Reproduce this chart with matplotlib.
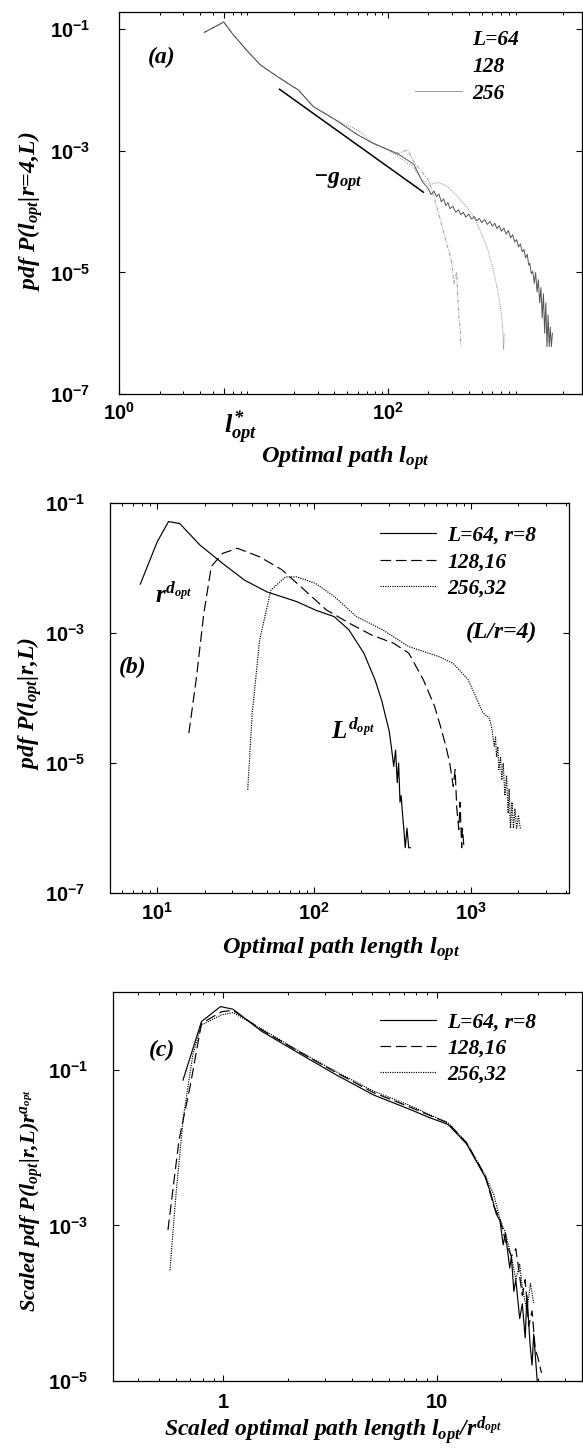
import numpy as np
import matplotlib
matplotlib.use("Agg")
import matplotlib.pyplot as plt
from matplotlib.ticker import FixedLocator, FixedFormatter, LogLocator, NullFormatter, NullLocator

plt.rcParams['font.family'] = ['Liberation Sans', 'DejaVu Sans']
plt.rcParams['font.weight'] = 'bold'
plt.rcParams['mathtext.fontset'] = 'custom'
plt.rcParams['mathtext.rm'] = 'Liberation Serif:bold:italic'
plt.rcParams['mathtext.it'] = 'Liberation Serif:bold:italic'
plt.rcParams['mathtext.bf'] = 'Liberation Serif:bold:italic'

# ---------------- data: panel (a)  (log10 of pdf) ----------------
a_l64 = [4.3, 6, 7, 9.1, 11.3, 15.1, 21.6, 27.8, 40.8, 60, 77, 100, 121, 140, 156,
         180, 203, 230, 261, 280, 297, 310, 325, 337, 345, 350]
a_p64 = [-1.05, -0.88, -1.08, -1.37, -1.59, -1.78, -2.0, -2.27, -2.49, -2.74, -2.87,
         -2.98, -3.04, -2.98, -3.18, -3.35, -3.5, -3.9, -4.35, -4.6, -4.79, -5.18,
         -5.0, -5.72, -5.9, -6.22]
a_l128 = [4.3, 6, 7, 9.1, 11.3, 15.1, 21.6, 27.8, 40.8, 60, 77, 100, 121, 156, 180,
          203, 240, 279, 330, 384, 440, 496, 550, 601, 641, 670, 705, 715, 728, 735]
a_p128 = [-1.05, -0.88, -1.08, -1.37, -1.59, -1.78, -2.0, -2.27, -2.49, -2.66, -2.87,
          -2.98, -3.1, -3.28, -3.48, -3.55, -3.52, -3.59, -3.75, -3.92, -4.1, -4.35,
          -4.6, -4.90, -5.18, -5.4, -5.72, -5.9, -6.27, -6.0]
a_l256 = [4.3, 6, 7, 9.1, 11.3, 15.1, 21.6, 27.8, 40.8, 60, 77, 100, 121, 156, 180,
          200, 210, 220, 230, 240, 250, 260, 270, 280, 290, 305, 320, 335, 350, 365,
          380, 400, 420, 440, 460, 480, 500, 525, 550, 575, 600, 625, 650, 675, 700,
          730, 760, 790, 820, 850, 880, 910, 940, 970, 1000, 1030, 1060, 1090, 1120,
          1140, 1170, 1200, 1230, 1260, 1290, 1320, 1350, 1380, 1410, 1440, 1470,
          1500, 1530, 1560, 1590, 1620, 1650, 1680]
a_p256 = [-1.05, -0.88, -1.08, -1.37, -1.59, -1.78, -2.0, -2.27, -2.49, -2.74, -2.87,
          -2.98, -3.06, -3.22, -3.5, -3.62, -3.72, -3.66, -3.75, -3.71, -3.84, -3.79,
          -3.90, -3.85, -3.95, -3.91, -4.01, -3.97, -4.05, -4.01, -4.09, -4.04, -4.12,
          -4.08, -4.15, -4.11, -4.18, -4.13, -4.21, -4.16, -4.24, -4.19, -4.28, -4.23,
          -4.32, -4.27, -4.37, -4.31, -4.43, -4.38, -4.50, -4.46, -4.58, -4.53, -4.66,
          -4.62, -4.76, -4.70, -4.88, -4.85, -5.02, -4.98, -5.18, -5.0, -5.32, -5.12,
          -5.50, -5.25, -5.75, -5.35, -6.0, -5.5, -6.22, -5.7, -6.22, -5.9, -6.22,
          -6.0]
a_fit_l = [15.6, 184]
a_fit_p = [-1.986, -3.68]

# ---------------- data: panel (b) ----------------
b_l64 = [7.8, 10, 11.8, 13.9, 18.7, 26, 36, 50, 77.5, 102, 134, 166, 207, 244, 270,
         288, 300, 310, 321, 330, 338, 345, 352, 358, 365, 372, 380, 390, 400, 410]
b_p64 = [-2.25, -1.60, -1.29, -1.32, -1.65, -1.93, -2.19, -2.37, -2.52, -2.65, -2.75,
         -2.95, -3.31, -3.72, -4.05, -4.33, -4.5, -4.75, -5.05, -4.8, -5.3, -5.0,
         -5.6, -5.5, -5.77, -6.0, -6.3, -6.0, -6.3, -6.3]
b_l128 = [15.9, 17.7, 19.8, 22.1, 26, 32.4, 44.8, 62.3, 86.5, 120, 167, 231, 321,
          400, 496, 585, 640, 690, 730, 769, 790, 810, 834, 850, 870, 880, 900, 920]
b_p128 = [-4.54, -3.72, -2.70, -1.98, -1.78, -1.70, -1.83, -2.03, -2.34, -2.65, -2.85,
          -3.03, -3.16, -3.31, -3.72, -4.13, -4.45, -4.74, -5.0, -5.36, -5.1, -5.7,
          -6.02, -5.6, -6.3, -6.0, -6.3, -6.3]
b_l256 = [37.7, 40.3, 44.9, 53, 65.8, 77.6, 102, 134, 186, 272, 400, 617, 769, 957,
          1190, 1300, 1350, 1403, 1430, 1450, 1480, 1500, 1540, 1566, 1600, 1640,
          1680, 1720, 1746, 1780, 1820, 1860, 1900, 1950, 2000, 2055, 2100]
b_p256 = [-5.41, -4.23, -3.11, -2.34, -2.14, -2.14, -2.24, -2.44, -2.75, -2.95, -3.21,
          -3.36, -3.47, -3.72, -4.23, -4.30, -4.45, -4.74, -4.6, -4.9, -4.75, -5.1,
          -4.9, -5.26, -5.0, -5.5, -5.2, -5.77, -5.4, -6.0, -5.6, -6.0, -5.7, -6.0,
          -5.8, -6.0, -6.0]

# ---------------- data: panel (c) ----------------
c_x64 = [0.647, 0.79, 0.97, 1.11, 1.51, 2.25, 3.37, 5.05, 7.55, 9.2, 11.3, 13.8, 16.9,
         18.0, 19.0, 19.8, 20.5, 21.0, 22.0, 22.4, 23.0, 23.5, 24.5, 25.2, 26.0, 26.5,
         27.4, 28.0, 28.5, 29.6]
c_p64 = [-1.13, -0.376, -0.183, -0.217, -0.50, -0.78, -1.06, -1.32, -1.51, -1.61, -1.70,
         -1.95, -2.38, -2.60, -2.85, -2.94, -3.25, -3.1, -3.55, -3.40, -3.85, -3.7,
         -4.2, -4.01, -4.45, -3.9, -4.53, -4.8, -4.4, -5.0]
c_x128 = [0.55, 0.62, 0.70, 0.79, 0.98, 1.11, 1.51, 2.25, 3.37, 5.05, 7.55, 9.2, 11.3,
          13.8, 16.9, 18.5, 19.8, 21.0, 22.4, 23.5, 25.2, 26.0, 27.0, 28.0, 29.0,
          29.8, 31.0]
c_p128 = [-3.06, -1.9, -1.2, -0.40, -0.25, -0.23, -0.48, -0.76, -1.03, -1.29, -1.48,
          -1.58, -1.68, -1.94, -2.36, -2.75, -2.92, -3.2, -3.4, -3.3, -3.9, -3.7,
          -4.3, -4.1, -4.6, -4.7, -4.9]
c_x256 = [0.562, 0.6, 0.65, 0.72, 0.79, 0.98, 1.11, 1.51, 2.25, 3.37, 5.05, 7.55, 9.2,
          11.3, 13.8, 16.9, 18.5, 19.8, 21.0, 22.4, 23.5, 24.5, 25.2, 26.5, 27.5, 28.5]
c_p256 = [-3.58, -2.6, -1.6, -0.8, -0.42, -0.29, -0.26, -0.47, -0.75, -1.02, -1.27,
          -1.46, -1.57, -1.68, -1.93, -2.36, -2.6, -2.92, -3.1, -3.4, -3.7, -3.5,
          -3.8, -4.1, -3.75, -4.0]

legend_a = ['L=64', '128', '256']
legend_bc = ['L=64, r=8', '128,16', '256,32']
ytick_a = [1e-7, 1e-5, 1e-3, 1e-1]
ytick_c = [1e-5, 1e-3, 1e-1]
xtick_a = [1, 100]
xtick_a_labels = [r'$\mathdefault{10^{0}}$', r'$\mathdefault{10^{2}}$']
xtick_b = [10, 100, 1000]
xtick_b_labels = [r'$\mathdefault{10^{1}}$', r'$\mathdefault{10^{2}}$', r'$\mathdefault{10^{3}}$']
xtick_c = [1, 10]
xtick_c_labels = ['1', '10']
l_star = 6

def P(v):
    return np.power(10.0, np.asarray(v, dtype=float))

W, H = 583, 1449
fig = plt.figure(figsize=(W / 100, H / 100), dpi=100)

def px_axes(l, r, t, b):
    return fig.add_axes([l / W, 1 - b / H, (r - l) / W, (b - t) / H])

serif = dict(family='Liberation Serif', style='italic', weight='bold')
leg_prop = dict(family='Liberation Serif', style='italic', weight='bold', size=15.5)
TICK = 14.5
LAB = 17

def style(ax, ypad):
    ax.set_xscale('log')
    ax.set_yscale('log')
    for s in ax.spines.values():
        s.set_linewidth(0.9)
    ax.tick_params(which='both', direction='in', top=True, right=True,
                   labelsize=TICK)
    ax.tick_params(which='major', length=4.5, width=0.8)
    ax.tick_params(which='minor', length=2, width=0.7)
    ax.tick_params(axis='y', which='major', pad=ypad)
    ax.yaxis.set_minor_locator(NullLocator())
    ax.xaxis.set_minor_locator(LogLocator(base=10, subs=np.arange(2, 10)))
    ax.xaxis.set_minor_formatter(NullFormatter())

# ---------------- panel (a) ----------------
ax = px_axes(119.3, 582, 11.7, 394)
style(ax, 21)
ax.plot(a_l64, P(a_p64), color='#9a9a9a', lw=0.7, ls=(0, (4, 1.5, 1, 1.5)), label=legend_a[0])
ax.plot(a_l128, P(a_p128), color='#8a8a8a', lw=0.7, ls=(0, (1, 1.2)), label=legend_a[1])
ax.plot(a_l256, P(a_p256), color='#555555', lw=0.7, label=legend_a[2])
ax.plot(a_fit_l, P(a_fit_p), color='black', lw=1.1)
ax.set_xlim(1, 2790)
ax.set_ylim(1e-7, 0.195)
ax.yaxis.set_major_locator(FixedLocator(ytick_a))
ax.xaxis.set_major_locator(FixedLocator(xtick_a + [l_star]))
ax.xaxis.set_major_formatter(FixedFormatter(xtick_a_labels + ['']))
ax.tick_params(axis='x', which='major', pad=6)
leg = ax.legend(loc='upper left', bbox_to_anchor=(0.639, 0.952), frameon=False,
                prop=leg_prop, handlelength=2.2, handletextpad=0.45,
                labelspacing=0.31, borderpad=0, borderaxespad=0)
leg.get_lines()[0].set_alpha(0.0)
leg.get_lines()[1].set_alpha(0.0)
leg.get_lines()[2].set_color('#999999')
ax.text(0.092, 0.881, '(a)', transform=ax.transAxes, ha='center', va='center',
        fontsize=17, **serif)
ax.text(0.418, 0.557, r'$-g_{opt}$', transform=ax.transAxes, ha='left', va='center',
        fontsize=17)
ax.text(l_star, -0.088, r'$l^{*}_{opt}$', transform=ax.get_xaxis_transform(),
        ha='left', va='center', fontsize=19)
ax.set_xlabel(r'$Optimal\ path\ l_{opt}$', fontsize=LAB + 0.5, va='center')
ax.xaxis.set_label_coords(0.488, -0.167)
ax.set_ylabel(r'$pdf\ P(l_{opt}|r\!=\!4{,}L)$', fontsize=LAB, va='center')
ax.yaxis.set_label_coords(-0.191, 0.479)

# ---------------- panel (b) ----------------
ax = px_axes(110, 569, 502.7, 893.3)
style(ax, 18)
ax.plot(b_l64, P(b_p64), color='black', lw=0.85, label=legend_bc[0])
ax.plot(b_l128, P(b_p128), color='black', lw=0.85, ls=(0, (9, 4)), label=legend_bc[1])
ax.plot(b_l256, P(b_p256), color='black', lw=0.85, ls=(0, (1, 1)), label=legend_bc[2])
ax.set_xlim(5, 4200)
ax.set_ylim(1e-7, 1e-1)
ax.yaxis.set_major_locator(FixedLocator(ytick_a))
ax.xaxis.set_major_locator(FixedLocator(xtick_b))
ax.xaxis.set_major_formatter(FixedFormatter(xtick_b_labels))
ax.tick_params(axis='x', which='major', pad=6)
ax.legend(loc='upper left', bbox_to_anchor=(0.589, 0.941), frameon=False,
          prop=leg_prop, handlelength=2.6, handletextpad=0.5,
          labelspacing=0.29, borderpad=0, borderaxespad=0)
ax.text(0.050, 0.579, '(b)', transform=ax.transAxes, ha='center', va='center',
        fontsize=17, **serif)
ax.text(0.139, 0.764, r'$r^{d_{opt}}$', transform=ax.transAxes, ha='center', va='center',
        fontsize=18)
ax.text(0.529, 0.416, r'$L^{d_{opt}}$', transform=ax.transAxes, ha='center', va='center',
        fontsize=18)
ax.text(0.852, 0.667, '(L/r=4)', transform=ax.transAxes, ha='center', va='center',
        fontsize=17, **serif)
ax.set_xlabel(r'$Optimal\ path\ length\ l_{opt}$', fontsize=LAB + 0.5, va='center')
ax.xaxis.set_label_coords(0.503, -0.142)
ax.set_ylabel(r'$pdf\ P(l_{opt}|r{,}L)$', fontsize=LAB, va='center')
ax.yaxis.set_label_coords(-0.175, 0.485)

# ---------------- panel (c) ----------------
ax = px_axes(113.3, 582, 991.7, 1380.7)
style(ax, 18)
ax.plot(c_x64, P(c_p64), color='black', lw=0.85, label=legend_bc[0])
ax.plot(c_x128, P(c_p128), color='black', lw=0.85, ls=(0, (9, 4)), label=legend_bc[1])
ax.plot(c_x256, P(c_p256), color='black', lw=0.85, ls=(0, (1, 1)), label=legend_bc[2])
ax.set_xlim(0.305, 48)
ax.set_ylim(1e-5, 1.02)
ax.yaxis.set_major_locator(FixedLocator(ytick_c))
ax.xaxis.set_major_locator(FixedLocator(xtick_c))
ax.xaxis.set_major_formatter(FixedFormatter(xtick_c_labels))
ax.tick_params(axis='x', which='major', pad=9)
ax.legend(loc='upper left', bbox_to_anchor=(0.570, 0.947), frameon=False,
          prop=leg_prop, handlelength=2.6, handletextpad=0.5,
          labelspacing=0.29, borderpad=0, borderaxespad=0)
ax.text(0.104, 0.850, '(c)', transform=ax.transAxes, ha='center', va='center',
        fontsize=17, **serif)
ax.set_xlabel(r'$Scaled\ optimal\ path\ length\ l_{opt}/r^{d_{opt}}$', fontsize=LAB,
              va='center')
ax.xaxis.set_label_coords(0.469, -0.128)
ax.set_ylabel(r'$Scaled\ pdf\ P(l_{opt}|r{,}L)r^{a_{opt}}$', fontsize=16, va='center')
ax.yaxis.set_label_coords(-0.173, 0.462)

fig.savefig('out.png', dpi=100)
